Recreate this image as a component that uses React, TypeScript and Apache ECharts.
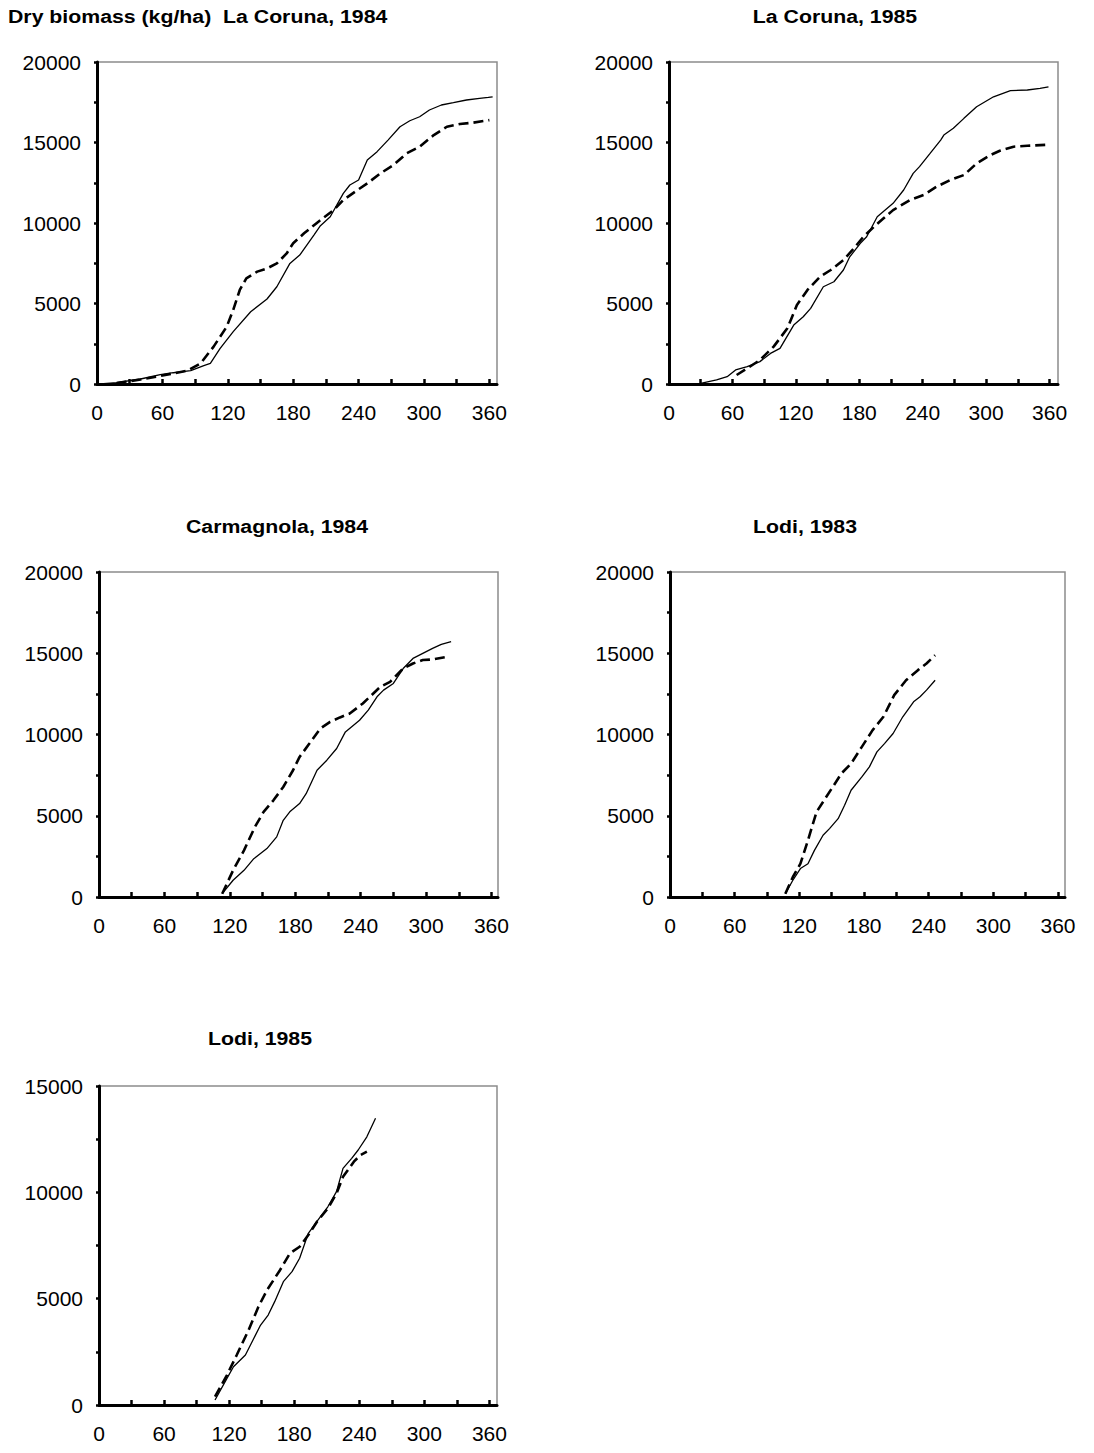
import React, { useEffect, useRef } from "react";
import * as echarts from "echarts";

// ---- Data (day of year, dry biomass kg/ha) ----
const coruna84SolidDays = [3, 18, 40, 58, 70, 86, 98, 104, 113, 125, 141, 156, 165, 177, 186, 199, 205, 214, 226, 232, 240, 248, 257, 267, 278, 287, 296, 305, 316, 327, 339, 351, 359, 363];
const coruna84SolidVals = [0, 80, 310, 580, 700, 830, 1140, 1280, 2210, 3250, 4490, 5280, 6040, 7490, 8010, 9250, 9830, 10390, 11840, 12360, 12670, 13910, 14430, 15150, 15980, 16350, 16600, 17020, 17330, 17470, 17640, 17740, 17800, 17840];
const coruna84DashDays = [18, 40, 58, 83, 95, 107, 119, 125, 131, 137, 147, 156, 165, 174, 180, 190, 202, 217, 226, 239, 248, 260, 272, 284, 296, 309, 321, 333, 345, 360];
const coruna84DashVals = [60, 280, 500, 830, 1280, 2320, 3560, 4600, 5840, 6560, 6980, 7180, 7490, 8110, 8740, 9360, 10020, 10800, 11430, 12050, 12460, 13080, 13600, 14320, 14740, 15460, 15980, 16150, 16230, 16390];

const coruna85SolidDays = [10, 30, 45, 55, 63, 74, 86, 96, 105, 118, 127, 134, 146, 156, 165, 171, 181, 187, 197, 212, 222, 231, 237, 247, 257, 260, 269, 279, 291, 307, 323, 339, 351, 359];
const coruna85SolidVals = [0, 40, 250, 455, 870, 1080, 1390, 1900, 2215, 3660, 4180, 4700, 6040, 6350, 7080, 7900, 8740, 9150, 10390, 11220, 12050, 13080, 13500, 14320, 15150, 15460, 15880, 16500, 17220, 17840, 18220, 18260, 18360, 18460];
const coruna85DashDays = [64, 74, 86, 99, 112, 121, 131, 143, 153, 165, 175, 184, 194, 203, 212, 228, 241, 253, 266, 279, 291, 304, 313, 326, 339, 359];
const coruna85DashVals = [560, 970, 1490, 2320, 3460, 4900, 5840, 6670, 7080, 7700, 8430, 9150, 9770, 10290, 10800, 11430, 11740, 12250, 12670, 12980, 13700, 14220, 14490, 14740, 14800, 14860];

const carmagnolaSolidDays = [113, 123, 133, 142, 154, 163, 169, 175, 184, 190, 200, 209, 218, 226, 239, 247, 255, 261, 270, 279, 288, 297, 306, 314, 323];
const carmagnolaSolidVals = [205, 1030, 1640, 2360, 2980, 3700, 4720, 5240, 5750, 6360, 7800, 8420, 9140, 10160, 10880, 11500, 12320, 12730, 13140, 14060, 14680, 14990, 15300, 15550, 15710];
const carmagnolaDashDays = [113, 123, 133, 143, 151, 160, 169, 178, 184, 193, 203, 212, 221, 230, 242, 258, 267, 279, 288, 297, 306, 319];
const carmagnolaDashVals = [200, 1640, 2870, 4310, 5240, 5950, 6770, 7800, 8620, 9440, 10370, 10780, 11050, 11290, 11910, 12930, 13240, 14060, 14370, 14580, 14620, 14780];

const lodi83SolidDays = [107, 114, 121, 128, 134, 142, 148, 156, 162, 168, 178, 185, 192, 199, 207, 216, 226, 232, 238, 246];
const lodi83SolidVals = [205, 1030, 1750, 2050, 2870, 3800, 4210, 4820, 5650, 6570, 7390, 8010, 8930, 9440, 10060, 11090, 12010, 12320, 12730, 13340];
const lodi83DashDays = [107, 114, 121, 128, 136, 144, 151, 159, 168, 178, 188, 198, 208, 219, 230, 238, 246];
const lodi83DashVals = [205, 1230, 2050, 3490, 5240, 6060, 6770, 7600, 8210, 9240, 10270, 11090, 12420, 13340, 13960, 14370, 14880];

const lodi85SolidDays = [107, 118, 124, 135, 142, 149, 156, 162, 170, 178, 185, 193, 202, 211, 219, 225, 233, 239, 247, 255];
const lodi85SolidVals = [235, 1250, 1800, 2350, 3060, 3760, 4230, 4860, 5800, 6270, 6900, 8070, 8700, 9320, 10030, 11130, 11600, 11990, 12610, 13480];
const lodi85DashDays = [107, 118, 127, 138, 147, 155, 167, 176, 185, 193, 201, 211, 219, 225, 235, 241, 247];
const lodi85DashVals = [390, 1410, 2350, 3530, 4620, 5410, 6350, 7130, 7440, 7990, 8620, 9240, 9950, 10730, 11440, 11750, 11910];

const panelTitles = ["Dry biomass (kg/ha)  La Coruna, 1984", "La Coruna, 1985", "Carmagnola, 1984", "Lodi, 1983", "Lodi, 1985"];
const panelYMax = [20000, 20000, 20000, 20000, 15000];
const xTickValues = [0, 30, 60, 90, 120, 150, 180, 210, 240, 270, 300, 330, 360];
const xLabelValues = [0, 60, 120, 180, 240, 300, 360];

const panelData = [
  [coruna84SolidDays, coruna84SolidVals, coruna84DashDays, coruna84DashVals],
  [coruna85SolidDays, coruna85SolidVals, coruna85DashDays, coruna85DashVals],
  [carmagnolaSolidDays, carmagnolaSolidVals, carmagnolaDashDays, carmagnolaDashVals],
  [lodi83SolidDays, lodi83SolidVals, lodi83DashDays, lodi83DashVals],
  [lodi85SolidDays, lodi85SolidVals, lodi85DashDays, lodi85DashVals],
];

// ---- Layout ----
const grids = [
  { left: 97, top: 62, width: 400, height: 322, xMax: 367 },
  { left: 669, top: 62, width: 389, height: 322, xMax: 368 },
  { left: 99, top: 572, width: 399, height: 325, xMax: 366 },
  { left: 670, top: 572, width: 395, height: 325, xMax: 366.5 },
  { left: 99, top: 1086, width: 398, height: 319, xMax: 367 },
];
const titlePos = [
  { x: 8, y: 16, align: "left" },
  { x: 835, y: 16, align: "center" },
  { x: 277, y: 526, align: "center" },
  { x: 805, y: 526, align: "center" },
  { x: 260, y: 1038, align: "center" },
];

const FONT = "'Liberation Sans', Arial, Helvetica, sans-serif";

const zip = (xs: number[], ys: number[]) => xs.map((x, i) => [x, ys[i]]);

export default function App() {
  const ref = useRef<HTMLDivElement>(null);
  useEffect(() => {
    document.body.style.margin = "0";
    if (!ref.current) return;
    const chart = echarts.init(ref.current, undefined, { renderer: "svg" });

    const option: any = {
      animation: false,
      backgroundColor: "#ffffff",
      grid: grids.map((g) => ({
        left: g.left,
        top: g.top,
        width: g.width,
        height: g.height,
        show: true,
        borderColor: "#8c8c8c",
        borderWidth: 1.5,
        backgroundColor: "transparent",
        containLabel: false,
      })),
      xAxis: grids.map((g, i) => ({
        type: "value",
        gridIndex: i,
        min: 0,
        max: g.xMax,
        splitLine: { show: false },
        axisLine: { show: true, lineStyle: { color: "#000", width: 3 } },
        axisTick: {
          show: true,
          inside: true,
          length: 5,
          lineStyle: { color: "#000", width: 2.5 },
          customValues: xTickValues,
        },
        axisLabel: {
          customValues: xLabelValues,
          color: "#000",
          fontSize: 21,
          fontFamily: FONT,
          margin: 18,
        },
      })),
      yAxis: grids.map((g, i) => ({
        type: "value",
        gridIndex: i,
        min: 0,
        max: panelYMax[i],
        interval: 2500,
        splitLine: { show: false },
        axisLine: { show: true, lineStyle: { color: "#000", width: 3 } },
        axisTick: { show: true, inside: false, length: 3, lineStyle: { color: "#000", width: 2.5 } },
        axisLabel: {
          color: "#000",
          fontSize: 21,
          fontFamily: FONT,
          margin: 16,
          formatter: (v: number) => (v % 5000 === 0 ? String(v) : ""),
        },
      })),
      series: panelData.flatMap((d, i) => [
        {
          type: "line",
          xAxisIndex: i,
          yAxisIndex: i,
          data: zip(d[0], d[1]),
          showSymbol: false,
          symbol: "none",
          lineStyle: { color: "#000", width: 1.3, type: "solid" },
          z: 3,
        },
        {
          type: "line",
          xAxisIndex: i,
          yAxisIndex: i,
          data: zip(d[2], d[3]),
          showSymbol: false,
          symbol: "none",
          lineStyle: { color: "#000", width: 2.6, type: [10, 5] },
          z: 4,
        },
      ]),
      graphic: panelTitles.map((t, i) => ({
        type: "text",
        x: titlePos[i].x,
        y: titlePos[i].y,
        scaleX: 1.12,
        style: {
          text: t,
          fontSize: 19,
          fontWeight: "bold",
          fontFamily: FONT,
          fill: "#000",
          align: titlePos[i].align,
          verticalAlign: "middle",
        },
      })),
    };

    chart.setOption(option);
    return () => chart.dispose();
  }, []);

  return <div ref={ref} style={{ width: 1094, height: 1453 }} />;
}
